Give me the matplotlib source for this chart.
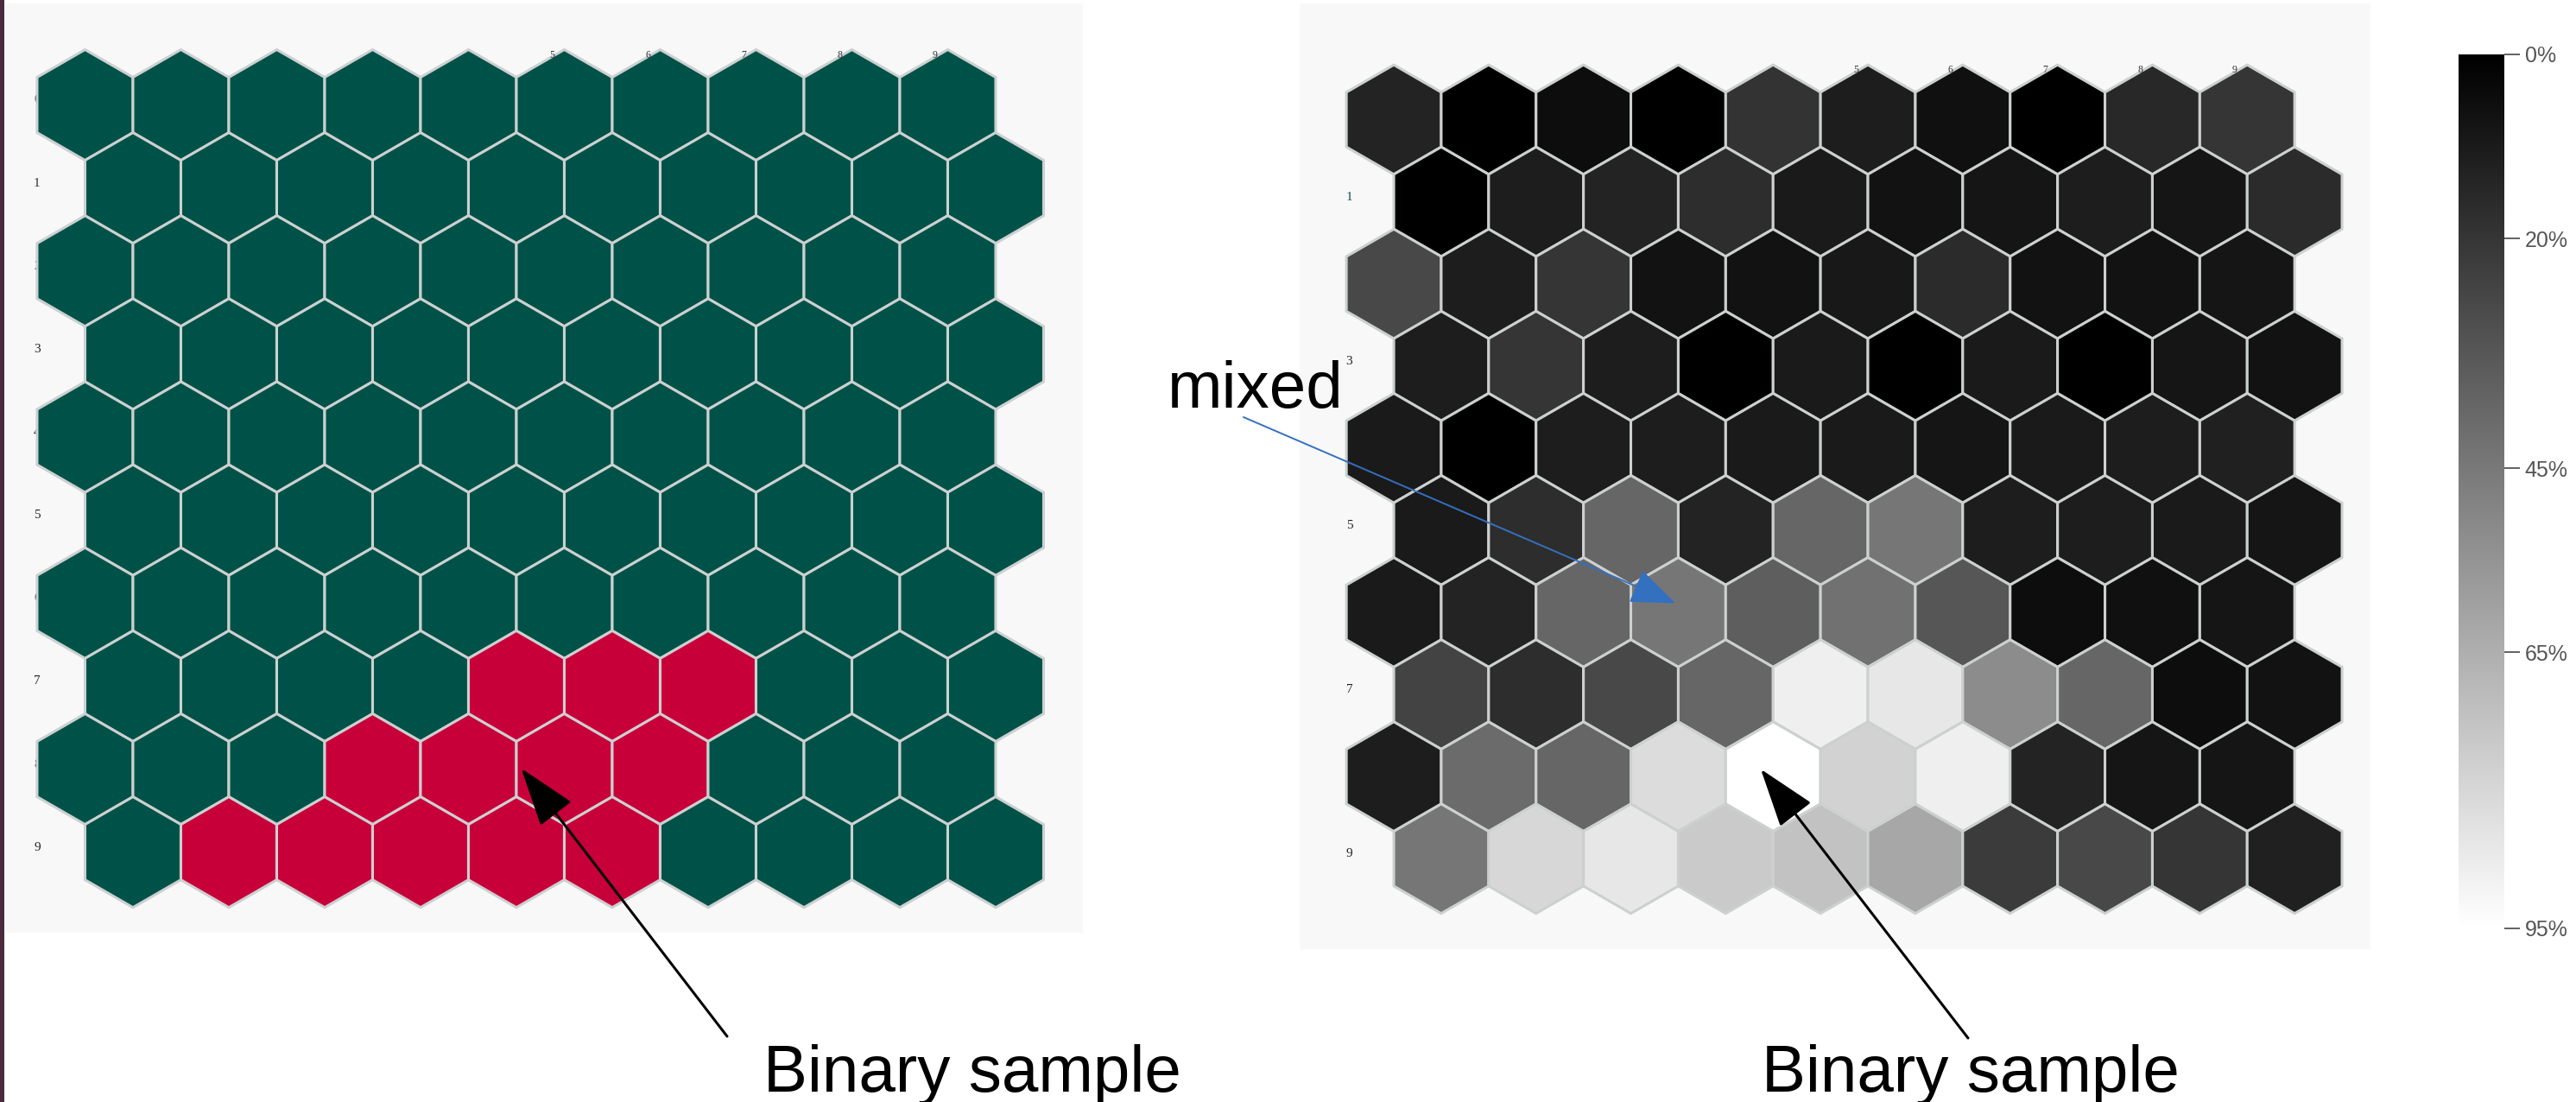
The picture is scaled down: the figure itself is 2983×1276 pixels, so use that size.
import numpy as np
import matplotlib.pyplot as plt
from matplotlib.patches import RegularPolygon, Rectangle
from matplotlib.colors import LinearSegmentedColormap, Normalize
from matplotlib.cm import ScalarMappable

plt.rcParams['font.family'] = ['Liberation Sans', 'DejaVu Sans']

W, H = 2983, 1276

# 10x10 SOM grid, row-major; odd rows are shifted half a cell to the right
n_rows = 10
n_cols = 10

# binary map: 1 = node hit by the sample
binary_hits = [
    [0, 0, 0, 0, 0, 0, 0, 0, 0, 0],
    [0, 0, 0, 0, 0, 0, 0, 0, 0, 0],
    [0, 0, 0, 0, 0, 0, 0, 0, 0, 0],
    [0, 0, 0, 0, 0, 0, 0, 0, 0, 0],
    [0, 0, 0, 0, 0, 0, 0, 0, 0, 0],
    [0, 0, 0, 0, 0, 0, 0, 0, 0, 0],
    [0, 0, 0, 0, 0, 0, 0, 0, 0, 0],
    [0, 0, 0, 0, 1, 1, 1, 0, 0, 0],
    [0, 0, 0, 1, 1, 1, 1, 0, 0, 0],
    [0, 1, 1, 1, 1, 1, 0, 0, 0, 0],
]

# mixed map: share per node in percent
mixed_pct = [
    [13, 0, 5, 0, 19, 11, 6, 0, 15, 20],
    [0, 11, 13, 17, 10, 7, 8, 11, 8, 16],
    [27, 11, 20, 7, 7, 9, 16, 7, 7, 8],
    [11, 20, 11, 0, 10, 0, 10, 0, 8, 7],
    [10, 0, 11, 11, 10, 10, 8, 10, 11, 12],
    [10, 17, 38, 13, 38, 44, 11, 11, 10, 8],
    [10, 13, 38, 44, 35, 42, 32, 5, 6, 8],
    [25, 17, 27, 38, 89, 86, 52, 38, 5, 7],
    [11, 40, 38, 82, 95, 78, 89, 13, 8, 8],
    [44, 80, 86, 75, 72, 62, 22, 27, 20, 12],
]

cbar_ticks = [0, 20, 45, 65, 95]
cbar_labels = ['0%', '20%', '45%', '65%', '95%']
col_labels = ['5', '6', '7', '8', '9']

GREEN = '#005248'
RED = '#c8003a'
EDGE = '#cdd0d0'
PANEL = '#f8f8f8'

fig = plt.figure(figsize=(W / 100, H / 100), dpi=100)
fig.patch.set_facecolor('white')


def px_axes(x0, y0, x1, y1):
    return fig.add_axes([x0 / W, 1 - y1 / H, (x1 - x0) / W, (y1 - y0) / H])


def hex_center(r, c):
    return c + 0.5 * (r % 2), r * np.sqrt(3) / 2


def hex_grid(ax, colors, xlim, ylim, label_x, label_color):
    ax.set_facecolor(PANEL)
    for s in ax.spines.values():
        s.set_visible(False)
    ax.set_xticks([])
    ax.set_yticks([])
    ax.set_xlim(*xlim)
    ax.set_ylim(*ylim)
    for r in range(n_rows):
        for c in range(n_cols):
            x, y = hex_center(r, c)
            ax.add_patch(RegularPolygon((x, y), numVertices=6, radius=1 / np.sqrt(3),
                                        orientation=0, facecolor=colors[r][c],
                                        edgecolor=EDGE, linewidth=2.2, zorder=2))
    # row labels sit left of the grid, even ones end up behind the hexes
    for r in range(n_rows):
        lab = str(r)
        col = label_color if lab == '1' else '#222222'
        ax.text(label_x, r * np.sqrt(3) / 2 - 0.05, lab, ha='center', va='center',
                fontsize=11, color=col, family=['Liberation Serif', 'DejaVu Serif'],
                zorder=1)
    for lab in col_labels:
        c = int(lab)
        ax.text(c - 0.13, -0.52, lab, ha='center', va='center', fontsize=8.5,
                color='#333333', family=['Liberation Serif', 'DejaVu Serif'], zorder=3)


# left panel: binary sample
ax_l = px_axes(4, 4, 1254, 1080)
bin_colors = [[RED if v else GREEN for v in row] for row in binary_hits]
hex_grid(ax_l, bin_colors, (-0.851, 10.41), (8.635, -1.059), -0.5, '#333333')

# right panel: mixed sample in grey scale
cmap = LinearSegmentedColormap.from_list('greys_bw', ['#000000', '#ffffff'])
norm = Normalize(vmin=0, vmax=95)
grey_colors = [[cmap(norm(v)) for v in row] for row in mixed_pct]
ax_r = px_axes(1505, 4, 2745, 1099)
hex_grid(ax_r, grey_colors, (-0.993, 10.30), (8.748, -1.225), -0.47, '#1d4e6e')

# colour bar
cax = px_axes(2847, 63, 2900, 1075)
cb = fig.colorbar(ScalarMappable(norm=norm, cmap=cmap), cax=cax)
cb.outline.set_visible(False)
cb.set_ticks(cbar_ticks)
cb.set_ticklabels(cbar_labels)
cax.invert_yaxis()
cax.tick_params(axis='y', length=13, width=1.3, color='#555555', labelsize=18,
                labelcolor='#555555', pad=4)

# overlay for the callouts
ov = fig.add_axes([0, 0, 1, 1], zorder=10)
ov.set_xlim(0, W)
ov.set_ylim(H, 0)
ov.axis('off')
ov.patch.set_alpha(0)
ov.add_patch(Rectangle((0, 0), 5, H, facecolor='#4a2b3e', edgecolor='none'))

ov.text(1126, 1264, 'Binary sample', ha='center', va='baseline', fontsize=55, color='black')
ov.text(2282, 1264, 'Binary sample', ha='center', va='baseline', fontsize=55, color='black')
ov.text(1352, 472, 'mixed', ha='left', va='baseline', fontsize=55, color='black')

black_arrow = dict(arrowstyle='-|>,head_length=0.43,head_width=0.145', mutation_scale=100,
                   color='black', linewidth=2.2, shrinkA=0, shrinkB=0)
ov.annotate('', xy=(4.55, 6.92), xycoords=ax_l.transData,
            xytext=(842, 1200), textcoords=ov.transData, arrowprops=black_arrow)
ov.annotate('', xy=(3.87, 6.85), xycoords=ax_r.transData,
            xytext=(2279, 1202), textcoords=ov.transData, arrowprops=black_arrow)
ov.annotate('', xy=(2.97, 5.10), xycoords=ax_r.transData,
            xytext=(1440, 483), textcoords=ov.transData,
            arrowprops=dict(arrowstyle='-|>,head_length=0.33,head_width=0.13',
                            mutation_scale=100, color='#3470c0', linewidth=1.4,
                            shrinkA=0, shrinkB=0))

fig.savefig('out.png', dpi=100)
